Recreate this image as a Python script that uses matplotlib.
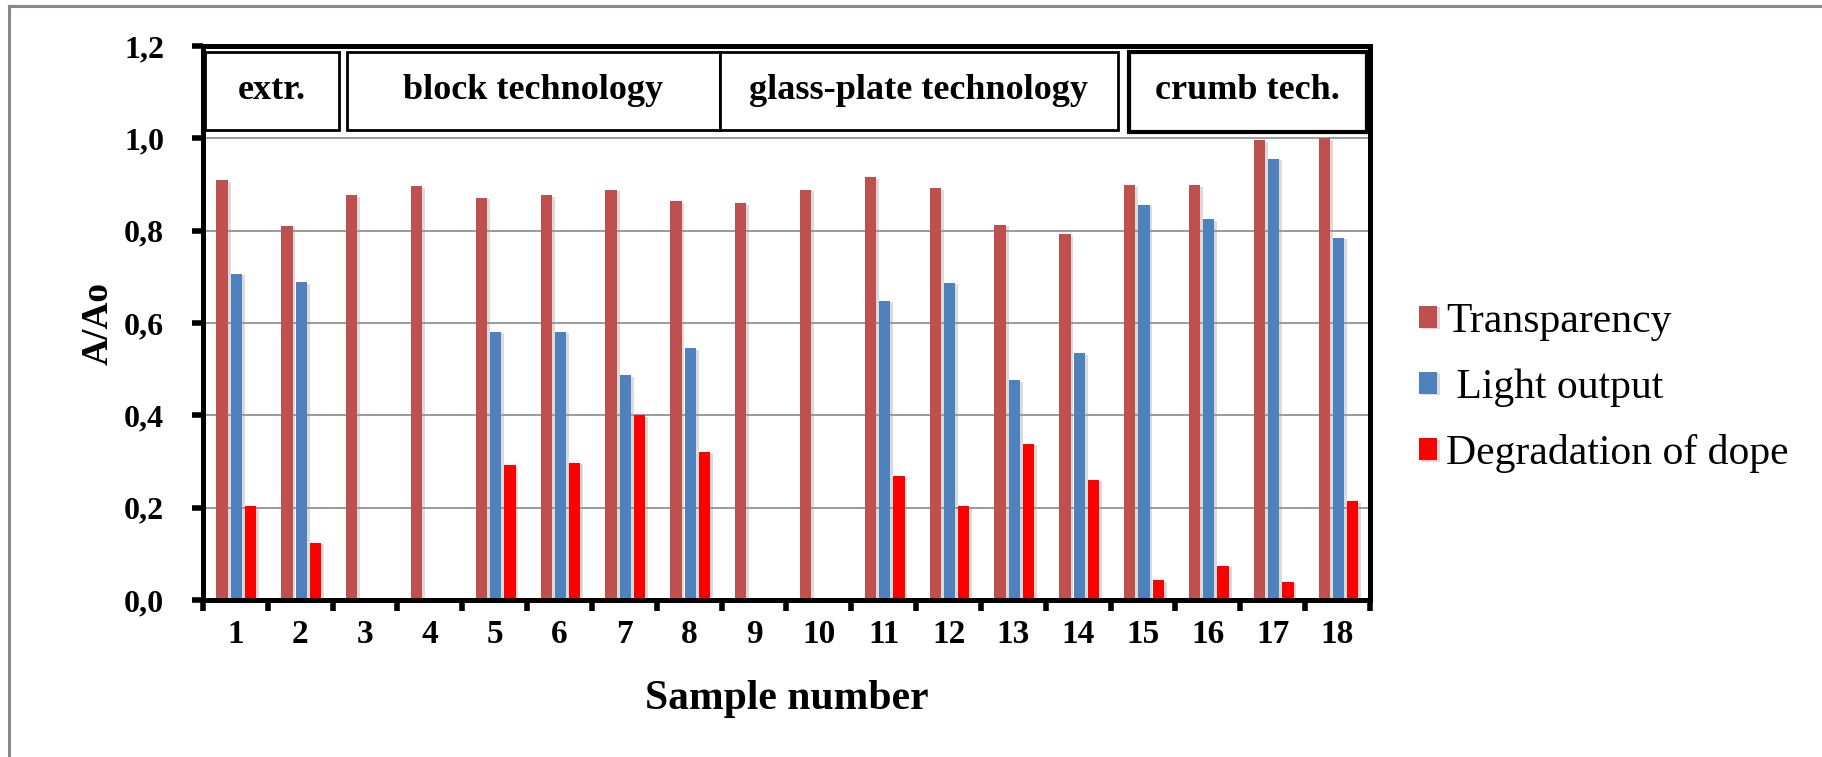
import numpy as np
import matplotlib
matplotlib.use("Agg")
import matplotlib.pyplot as plt
from matplotlib.patches import Rectangle
from matplotlib.lines import Line2D
from matplotlib.ticker import FuncFormatter, FixedLocator
import matplotlib.patheffects as pe

plt.rcParams['font.family'] = ['Liberation Serif', 'DejaVu Serif']

samples = [str(i) for i in range(1, 19)]
transparency = [0.909, 0.810, 0.877, 0.896, 0.871, 0.877, 0.889, 0.864, 0.859,
                0.889, 0.916, 0.892, 0.813, 0.792, 0.898, 0.898, 0.996, 1.000]
light_output = [0.706, 0.688, np.nan, np.nan, 0.581, 0.581, 0.487, 0.545, np.nan,
                np.nan, 0.648, 0.687, 0.476, 0.534, 0.856, 0.825, 0.956, 0.784]
degradation = [0.203, 0.124, np.nan, np.nan, 0.293, 0.297, 0.400, 0.321, np.nan,
               np.nan, 0.268, 0.203, 0.339, 0.261, 0.043, 0.074, 0.039, 0.214]
series_names = ["Transparency", " Light output", "Degradation of dope"]
colors = ["#C0504D", "#4F81BD", "#FF0000"]

groups = ["extr.", "block technology", "glass-plate technology", "crumb tech."]
# x-extent of each header box (in sample index units) and its border width
group_spans = [(-0.47, 1.60, 2.0), (1.72, 7.475, 2.0), (7.475, 13.61, 2.0), (13.78, 17.455, 3.0)]

fig = plt.figure(figsize=(18.22, 7.57), dpi=100)
ax = fig.add_axes([0.1114, 0.2074, 0.6405, 0.7318])

x = np.arange(len(samples))
width = 0.174
offsets = [-0.205, 0.015, 0.235]
shadow = [pe.withSimplePatchShadow(offset=(2, -1), shadow_rgbFace='#9a9a9a', alpha=0.35)]
for vals, name, c, off in zip([transparency, light_output, degradation], series_names, colors, offsets):
    ax.bar(x + off, vals, width, color=c, label=name, zorder=3, path_effects=shadow)

ax.set_xlim(-0.5, 17.5)
ax.set_ylim(0, 1.2)

# grid only inside the data area, the header row sits above 1,0
for g in [0.2, 0.4, 0.6, 0.8, 1.0]:
    ax.axhline(g, color='#8a8a8a', lw=1.2, zorder=1)

ax.yaxis.set_major_locator(FixedLocator([0, 0.2, 0.4, 0.6, 0.8, 1.0, 1.2]))
ax.yaxis.set_major_formatter(FuncFormatter(lambda v, p: f"{v:.1f}".replace('.', ',')))
ax.tick_params(axis='y', direction='out', length=8, width=4, pad=20,
               labelsize=23)
for t in ax.get_yticklabels():
    t.set_fontweight('bold')

# ticks at the boundaries between samples, labels at the centres
ax.set_xticks(np.arange(-0.5, 18, 1.0))
ax.set_xticklabels([])
ax.set_xticks(x, minor=True)
ax.set_xticklabels(samples, minor=True, fontsize=24, fontweight='bold')
ax.tick_params(axis='x', which='major', direction='out', length=8, width=4)
ax.tick_params(axis='x', which='minor', length=0, pad=13.5)

for s in ax.spines.values():
    s.set_linewidth(3.6)
    s.set_zorder(6)

ax.set_ylabel("A/Ao", fontsize=27, fontweight='bold', labelpad=6)
ax.set_xlabel("Sample number", fontsize=30, fontweight='bold', labelpad=22)

# header boxes naming the preparation technology
for name, (x0, x1, lw) in zip(groups, group_spans):
    y0 = 1.013 if lw > 2 else 1.019
    ax.add_patch(Rectangle((x0, y0), x1 - x0, 1.187 - y0, facecolor='white',
                           edgecolor='black', lw=lw, zorder=5, clip_on=False))
    ax.text((x0 + x1) / 2, 1.104, name, ha='center', va='center', fontsize=26,
            fontweight='bold', zorder=7)

leg = ax.legend(loc='center left', bbox_to_anchor=(0.7788, 0.488),
                bbox_transform=fig.transFigure, frameon=False, fontsize=30,
                handlelength=0.43, handleheight=0.43, handletextpad=0.23,
                labelspacing=0.66, borderpad=0, borderaxespad=0)

# thin grey frame on the top and left of the figure
fig.add_artist(Line2D([0.0052, 1.0], [0.9927, 0.9927], color='#888888', lw=2.2,
                      transform=fig.transFigure))
fig.add_artist(Line2D([0.0052, 0.0052], [0.0, 0.9927], color='#888888', lw=2.2,
                      transform=fig.transFigure))

fig.savefig("out.png", dpi=100)
